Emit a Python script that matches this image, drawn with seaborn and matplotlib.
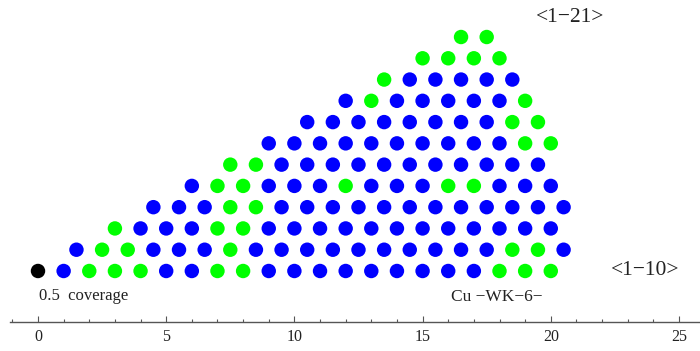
import matplotlib
matplotlib.use("Agg")
import matplotlib.pyplot as plt
from matplotlib.ticker import MultipleLocator
import seaborn as sns
import pandas as pd

# Lattice rows, bottom to top: first site position and site occupation
# (B = blue site, G = green site), one character per site, unit spacing.
row_start = [1, 1.5, 3, 4.5, 6, 7.5, 9, 10.5, 12, 13.5, 15, 16.5]
row_sites = [
    "BGGGBBGGBBBBBBBBBGGG",
    "BGGBBBGBBBBBBBBBBGGB",
    "GBBBGGBBBBBBBBBBBB",
    "BBBGGBBBBBBBBBBBB",
    "BGGBBBGBBBGGBBB",
    "GGBBBBBBBBBBB",
    "BBBBBBBBBBGG",
    "BBBBBBBBGG",
    "BGBBBBBG",
    "GBBBBB",
    "GGGG",
    "GG",
]
origin_site = (0, 0)  # black reference site

x_ticks = [0, 5, 10, 15, 20, 25]

records = [{"x": origin_site[0], "row": origin_site[1], "kind": "K"}]
for r, (start, sites) in enumerate(zip(row_start, row_sites)):
    for i, c in enumerate(sites):
        records.append({"x": start + i, "row": r, "kind": c})
df = pd.DataFrame(records)

sns.set_theme(style="white")
plt.rcParams["font.family"] = ["Liberation Serif", "DejaVu Serif"]

fig = plt.figure(figsize=(7.0, 3.51), dpi=100)
ax = fig.add_axes([10 / 700, 29 / 351, 690 / 700, 322 / 351])

sns.scatterplot(
    data=df, x="x", y="row", hue="kind",
    palette={"B": "#0000ff", "G": "#00ff00", "K": "#000000"},
    s=108, linewidth=0, legend=False, ax=ax,
)

ax.set_xlim(-1.092, 25.82)
ax.set_ylim(-2.398, 12.74)
ax.set_xlabel("")
ax.set_ylabel("")
ax.set_yticks([])
ax.set_xticks(x_ticks)
ax.xaxis.set_minor_locator(MultipleLocator(1))
for side in ("left", "top", "right"):
    ax.spines[side].set_visible(False)
ax.spines["bottom"].set_color("#555555")
ax.spines["bottom"].set_linewidth(1.0)
ax.tick_params(axis="x", which="major", direction="in", length=4.5, width=0.8,
               color="#555555", pad=5, labelsize=11.5, labelcolor="#222222",
               bottom=True)
ax.tick_params(axis="x", which="minor", direction="in", length=2.5, width=0.8,
               color="#555555", bottom=True)
ax.grid(False)

ax.text(20.75, 11.94, "<1\u221221>", fontsize=15.5, ha="center", va="center",
        color="#222222")
ax.text(23.67, 0.0, "<1\u221210>", fontsize=15.5, ha="center", va="center",
        color="#222222")
ax.text(0.05, -1.18, "0.5  coverage", fontsize=12, ha="left", va="center",
        color="#222222")
ax.text(17.9, -1.22, "Cu \u2212WK\u22126\u2212", fontsize=12.5, ha="center",
        va="center", color="#222222")

fig.savefig("out.png", dpi=100)
